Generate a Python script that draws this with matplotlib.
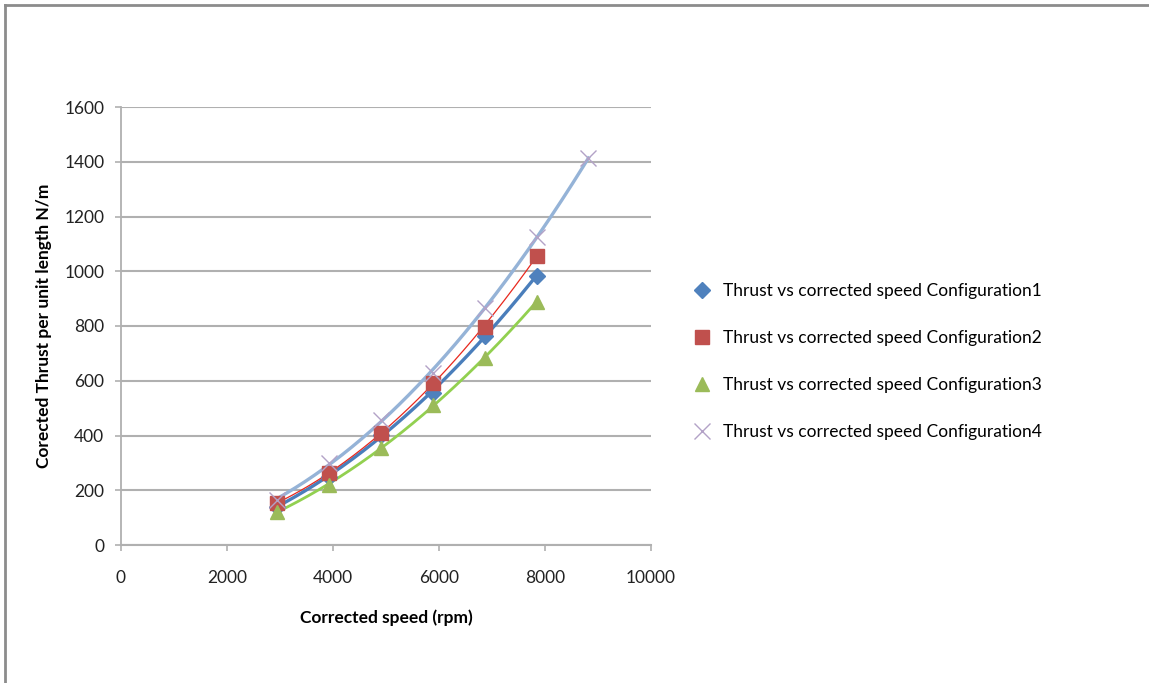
import numpy as np
import matplotlib.pyplot as plt
from matplotlib.lines import Line2D

# corrected speed (rpm)
speed = [2940, 3920, 4900, 5880, 6860, 7840]
speed4 = [2940, 3920, 4900, 5880, 6860, 7840, 8820]

# corrected thrust per unit length (N/m)
thrust1 = [140, 250, 402, 556, 763, 984]
thrust2 = [153, 262, 409, 590, 797, 1056]
thrust3 = [122, 219, 353, 511, 682, 889]
thrust4 = [164, 299, 457, 627, 865, 1126, 1413]

labels = ['Thrust vs corrected speed Configuration1',
          'Thrust vs corrected speed Configuration2',
          'Thrust vs corrected speed Configuration3',
          'Thrust vs corrected speed Configuration4']

plt.rcParams['font.family'] = ['Lato', 'DejaVu Sans']

fig = plt.figure(figsize=(11.49, 6.83), dpi=100)
ax = fig.add_axes([121/1149, 138/683, 530/1149, 438/683])

# outer chart frame: left and top edges
fx, fy = 5/1149, 1 - 5/683
fig.lines.append(Line2D([fx, fx], [0, fy], transform=fig.transFigure,
                        color='#8c8c8c', linewidth=2.0))
fig.lines.append(Line2D([fx, 1], [fy, fy], transform=fig.transFigure,
                        color='#8c8c8c', linewidth=2.0))

series = [
    (speed, thrust1, 'D', '#4F81BD', '#4A7EBB', 2.4, 8, 0),
    (speed, thrust2, 's', '#C0504D', '#E8281E', 0.9, 10, 0),
    (speed, thrust3, '^', '#9BBB59', '#92D050', 2.0, 10, 0),
    (speed4, thrust4, 'x', '#B3A2C7', '#95B3D7', 2.4, 11, 1.0),
]

# quadratic trendlines fitted through each series
for x, y, mk, mc, lc, lw, ms, mew in series:
    c = np.polyfit(x, y, 2)
    xs = np.linspace(min(x), max(x), 200)
    ax.plot(xs, np.polyval(c, xs), color=lc, linewidth=lw, zorder=3)

handles = []
for (x, y, mk, mc, lc, lw, ms, mew), lab in zip(series, labels):
    if mk == 'x':
        h = ax.plot(x, y, linestyle='none', marker=mk, markersize=ms, color=mc,
                    markeredgewidth=mew, label=lab, zorder=4)[0]
    else:
        h = ax.plot(x, y, linestyle='none', marker=mk, markersize=ms, color=mc,
                    markeredgecolor=mc, label=lab, zorder=4)[0]
    handles.append(h)

ax.set_xlim(0, 10000)
ax.set_ylim(0, 1600)
ax.set_xticks(np.arange(0, 10001, 2000))
ax.set_yticks(np.arange(0, 1601, 200))
ax.grid(axis='y', color='#b0b0b0', linewidth=1.5)
ax.set_axisbelow(True)

for s in ['top', 'right']:
    ax.spines[s].set_visible(False)
ax.spines['left'].set_color('#b0b0b0')
ax.spines['left'].set_linewidth(1.3)
ax.spines['bottom'].set_color('#b0b0b0')
ax.spines['bottom'].set_linewidth(1.5)
ax.tick_params(axis='both', colors='#b0b0b0', labelcolor='#222222', labelsize=12.5,
               length=4, width=1.2)
ax.tick_params(axis='y', pad=8)
ax.tick_params(axis='x', pad=14)

ax.set_xlabel('Corrected speed (rpm)', fontsize=12.5, fontweight='bold', labelpad=17)
ax.set_ylabel('Corected Thrust per unit length N/m', fontsize=12.5, fontweight='bold', labelpad=9)

fig.legend(handles=handles, labels=labels, loc='upper left',
           bbox_to_anchor=(685/1149, 1 - 276/683), frameon=False, fontsize=12.5,
           labelspacing=1.78, handletextpad=0.6, handlelength=1.2, borderaxespad=0)

fig.savefig('out.png', dpi=100)
